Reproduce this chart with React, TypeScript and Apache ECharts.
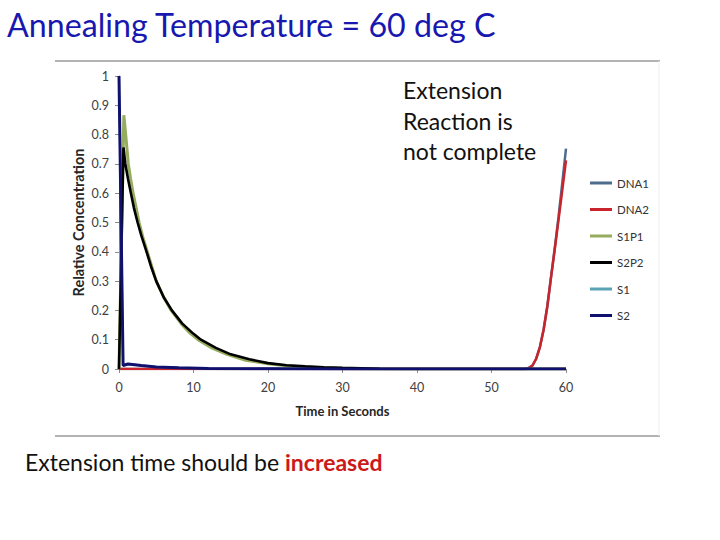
import React, { useEffect, useRef } from "react";
import * as echarts from "echarts";

const seriesNames = ["DNA1", "DNA2", "S1P1", "S2P2", "S1", "S2"];
const seriesColors = ["#4e6d8c", "#c9242c", "#95ab5e", "#000000", "#5aa3b5", "#10106e"];
const xTicks = [0, 10, 20, 30, 40, 50, 60];
const yTicks = [0, 0.1, 0.2, 0.3, 0.4, 0.5, 0.6, 0.7, 0.8, 0.9, 1];

const dna1: number[][] = [
  [0, 0], [10, 0], [20, 0], [30, 0], [40, 0], [50, 0], [54.5, 0], [55, 0.003], [55.5, 0.012],
  [56, 0.035], [56.5, 0.075], [57, 0.135], [57.5, 0.215], [58, 0.315], [58.5, 0.415],
  [59, 0.52], [59.5, 0.635], [60, 0.752],
];
const dna2: number[][] = [
  [0, 0], [10, 0], [20, 0], [30, 0], [40, 0], [50, 0], [54.5, 0], [55, 0.003], [55.5, 0.012],
  [56, 0.035], [56.5, 0.075], [57, 0.135], [57.5, 0.215], [58, 0.315], [58.5, 0.41],
  [59, 0.51], [59.5, 0.61], [60, 0.712],
];
const s1p1: number[][] = [
  [0, 0], [0.65, 0.866], [0.9, 0.8], [1.25, 0.7], [1.55, 0.65], [1.9, 0.6], [2.3, 0.55],
  [2.7, 0.5], [3.2, 0.45], [3.8, 0.4], [4.4, 0.35], [5.0, 0.3], [6.0, 0.245], [7.0, 0.2],
  [8.4, 0.153], [9.5, 0.123], [10.6, 0.1], [12.5, 0.071], [14.5, 0.05], [17, 0.03],
  [20, 0.018], [22.5, 0.011], [25, 0.007], [27.5, 0.004], [30, 0.002], [35, 0], [40, 0],
  [50, 0], [60, 0],
];
const s2p2: number[][] = [
  [0, 0], [0.6, 0.756], [0.85, 0.7], [1.2, 0.65], [1.6, 0.6], [2.0, 0.55], [2.5, 0.5],
  [3.0, 0.455], [3.7, 0.4], [4.3, 0.35], [5.0, 0.3], [6.0, 0.245], [7.1, 0.2], [8.5, 0.155],
  [10, 0.12], [11, 0.1], [13, 0.072], [15, 0.05], [17.5, 0.033], [20, 0.02], [22.5, 0.013],
  [25, 0.009], [27.5, 0.006], [30, 0.004], [35, 0.001], [40, 0], [50, 0], [60, 0],
];
const s1: number[][] = [
  [0, 1], [0.55, 0.012], [1.2, 0.017], [3, 0.012], [5, 0.007], [8, 0.004], [12, 0.002],
  [20, 0.001], [30, 0], [40, 0], [50, 0], [60, 0],
];
const s2: number[][] = [
  [0, 1], [0.55, 0.012], [1.2, 0.017], [3, 0.012], [5, 0.007], [8, 0.004], [12, 0.002],
  [20, 0.001], [30, 0], [40, 0], [50, 0], [60, 0],
];
const seriesData = [dna1, dna2, s1p1, s2p2, s1, s2];
const seriesWidths = [2.5, 2.5, 3, 2.6, 2, 3];

const FONT = "Lato, 'Noto Sans', sans-serif";

export default function App() {
  const ref = useRef<HTMLDivElement>(null);
  useEffect(() => {
    if (!ref.current) return;
    const chart = echarts.init(ref.current, undefined, { renderer: "svg" });
    chart.setOption({
      animation: false,
      backgroundColor: "#ffffff",
      textStyle: { fontFamily: FONT },
      grid: { left: 119, right: 154, top: 76, bottom: 171, containLabel: false },
      legend: {
        orient: "vertical",
        left: 585,
        top: 171,
        icon: "rect",
        itemWidth: 22,
        itemHeight: 3,
        itemGap: 12.5,
        data: seriesNames,
        textStyle: { fontSize: 11.5, color: "#333333", fontFamily: FONT, lineHeight: 14 },
      },
      xAxis: {
        type: "value",
        min: xTicks[0],
        max: xTicks[xTicks.length - 1],
        interval: 10,
        name: "Time in Seconds",
        nameLocation: "middle",
        nameGap: 35,
        nameMoveOverlap: false,
        nameTextStyle: { fontSize: 13, fontWeight: "bold", color: "#262626", fontFamily: FONT },
        axisLine: { lineStyle: { color: "#8c8c8c", width: 1 } },
        axisTick: { show: true, inside: false, length: 4, lineStyle: { color: "#8c8c8c" } },
        axisLabel: { fontSize: 12.5, color: "#404040", margin: 12, fontFamily: FONT },
        splitLine: { show: false },
      },
      yAxis: {
        type: "value",
        min: yTicks[0],
        max: yTicks[yTicks.length - 1],
        interval: 0.1,
        name: "Relative Concentration",
        nameLocation: "middle",
        nameGap: 33,
        nameMoveOverlap: false,
        nameTextStyle: { fontSize: 14.5, fontWeight: "bold", color: "#262626", fontFamily: FONT },
        axisLine: { show: true, lineStyle: { color: "#8c8c8c", width: 1 } },
        axisTick: { show: true, inside: false, length: 4, lineStyle: { color: "#8c8c8c" } },
        axisLabel: {
          fontSize: 12.5,
          color: "#404040",
          margin: 10,
          fontFamily: FONT,
          formatter: (v: number) => String(Math.round(v * 10) / 10),
        },
        splitLine: { show: false },
      },
      series: seriesNames.map((name, i) => ({
        name,
        type: "line",
        data: seriesData[i],
        showSymbol: false,
        smooth: false,
        lineStyle: { color: seriesColors[i], width: seriesWidths[i] },
        itemStyle: { color: seriesColors[i] },
        z: 2 + i,
      })),
      graphic: [
        { type: "line", shape: { x1: 55, y1: 61, x2: 660, y2: 61 }, style: { stroke: "#9a9a9a", lineWidth: 1.5 } },
        { type: "line", shape: { x1: 55, y1: 436, x2: 660, y2: 436 }, style: { stroke: "#9a9a9a", lineWidth: 1.5 } },
        { type: "line", shape: { x1: 659, y1: 61, x2: 659, y2: 436 }, style: { stroke: "#eeeeee", lineWidth: 1 } },
        {
          type: "text",
          left: 7,
          top: 8,
          style: { text: "Annealing Temperature = 60 deg C", fill: "#1818b0", font: `32.2px ${FONT}` },
        },
        {
          type: "text",
          left: 403,
          top: 75,
          style: {
            text: "Extension\nReaction is\nnot complete",
            fill: "#111111",
            font: `23px ${FONT}`,
            lineHeight: 30.5,
          },
        },
        {
          type: "text",
          left: 25,
          top: 450,
          style: {
            text: "{a|Extension time should be }{b|increased}",
            rich: {
              a: { fill: "#111111", font: `23px ${FONT}` },
              b: { fill: "#cc1a1a", font: `bold 23px ${FONT}` },
            },
          },
        },
      ],
    });
    return () => chart.dispose();
  }, []);
  return <div ref={ref} style={{ position: "absolute", left: 0, top: 0, width: 720, height: 540 }} />;
}
